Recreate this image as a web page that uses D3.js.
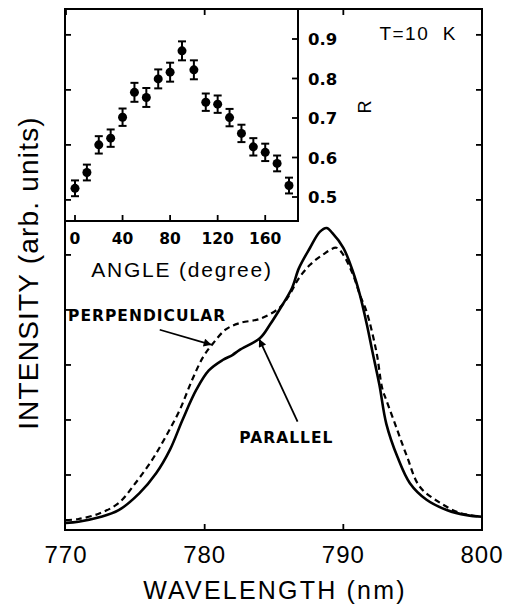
<!DOCTYPE html>
<html>
<head>
<meta charset="utf-8">
<script src="https://cdn.jsdelivr.net/npm/d3@7/dist/d3.min.js"></script>
<style>
  html, body { margin: 0; padding: 0; background: #fff; }
  svg { display: block; }
  .frame { fill: none; stroke: #000; stroke-width: 2; }
  .tick-mark { stroke: #000; stroke-width: 1.8; }
</style>
</head>
<body>
<div id="chart"></div>
<script>
// main spectrum: wavelength (nm) vs intensity (arb. units)
const parallelWl = [770, 770.9, 772.4, 773.8, 775.3, 776.5, 777.5, 778.4, 779.4, 780.3, 781.3, 782.0, 782.5, 784.0, 784.7, 785.6, 786.3, 786.8, 787.6, 788.3, 788.8, 789.2, 790.0, 790.7, 791.2, 791.7, 792.1, 792.6, 793.1, 793.9, 794.8, 796.0, 797.5, 798.9, 800];
const parallelI  = [0.13, 0.15, 0.23, 0.36, 0.67, 1.03, 1.46, 2.0, 2.55, 2.9, 3.09, 3.18, 3.27, 3.49, 3.73, 4.09, 4.40, 4.76, 5.13, 5.42, 5.49, 5.40, 5.13, 4.69, 4.27, 3.73, 3.24, 2.64, 1.93, 1.33, 0.85, 0.55, 0.36, 0.27, 0.24];

const perpWl = [770, 770.9, 772.4, 773.8, 775.0, 776.2, 777.2, 778.2, 779.1, 779.9, 780.6, 781.5, 782.5, 784.0, 785.4, 786.1, 786.8, 787.6, 788.5, 789.5, 790.0, 790.7, 791.2, 791.7, 792.4, 792.8, 793.1, 793.8, 794.6, 795.5, 797.0, 798.4, 800];
const perpI  = [0.18, 0.2, 0.3, 0.49, 0.85, 1.27, 1.70, 2.18, 2.73, 3.15, 3.39, 3.64, 3.76, 3.84, 4.04, 4.27, 4.58, 4.82, 5.0, 5.13, 5.0, 4.64, 4.27, 3.95, 3.22, 2.58, 2.36, 1.88, 1.33, 0.79, 0.49, 0.31, 0.24];

const wlTicks = [770, 780, 790, 800];
const intensityTicks = [1, 2, 3, 4, 5, 6, 7, 8, 9];

// inset: polarization ratio R vs angle
const angles = [0, 10, 20, 30, 40, 50, 60, 70, 80, 90, 100, 110, 120, 130, 140, 150, 160, 170, 180];
const ratioR = [0.522, 0.562, 0.632, 0.649, 0.702, 0.765, 0.752, 0.799, 0.816, 0.870, 0.822, 0.740, 0.735, 0.701, 0.661, 0.627, 0.613, 0.585, 0.529];
const ratioErr = [0.02, 0.02, 0.022, 0.022, 0.022, 0.024, 0.024, 0.024, 0.024, 0.024, 0.024, 0.022, 0.022, 0.022, 0.022, 0.022, 0.022, 0.02, 0.02];
const angleTicks = [0, 40, 80, 120, 160];
const rTicks = [0.5, 0.6, 0.7, 0.8, 0.9];

const width = 506, height = 607;
const box = { left: 65, top: 9, right: 482, bottom: 530 };
const inset = { left: 65, top: 9, right: 298, bottom: 221 };

const svg = d3.select("#chart")
              .append("svg")
              .attr("width", width)
              .attr("height", height);

const x = d3.scaleLinear().domain([770, 800]).range([box.left + 1, box.right]);
const y = d3.scaleLinear().domain([0, 9.47]).range([box.bottom, box.top]);

// frame
svg.append("rect")
   .attr("class", "frame")
   .attr("x", box.left).attr("y", box.top)
   .attr("width", box.right - box.left)
   .attr("height", box.bottom - box.top);

// main ticks, all pointing inward
const tl = 6;
svg.selectAll(".xt-bot")
   .data(wlTicks.slice(1, -1))
   .enter().append("line")
     .attr("class", "tick-mark")
     .attr("x1", d => x(d)).attr("x2", d => x(d))
     .attr("y1", box.bottom).attr("y2", box.bottom - tl);
svg.selectAll(".xt-top")
   .data(wlTicks.slice(1, -1))
   .enter().append("line")
     .attr("class", "tick-mark")
     .attr("x1", d => x(d)).attr("x2", d => x(d))
     .attr("y1", box.top).attr("y2", box.top + tl);
svg.selectAll(".yt-left")
   .data(intensityTicks)
   .enter().append("line")
     .attr("class", "tick-mark")
     .attr("x1", box.left).attr("x2", box.left + tl)
     .attr("y1", d => y(d)).attr("y2", d => y(d));
svg.selectAll(".yt-right")
   .data(intensityTicks)
   .enter().append("line")
     .attr("class", "tick-mark")
     .attr("x1", box.right).attr("x2", box.right - tl)
     .attr("y1", d => y(d)).attr("y2", d => y(d));

svg.selectAll(".xlab")
   .data(wlTicks)
   .enter().append("text")
     .attr("x", d => x(d))
     .attr("y", 563)
     .attr("text-anchor", "middle")
     .attr("font-family", "Liberation Sans, Arial, sans-serif")
     .attr("font-size", 24)
     .attr("letter-spacing", 1)
     .text(d => d);

svg.append("text")
   .attr("x", 275).attr("y", 599)
   .attr("text-anchor", "middle")
   .attr("font-family", "Liberation Sans, Arial, sans-serif")
   .attr("font-size", 25)
   .attr("letter-spacing", 2.2)
   .text("WAVELENGTH (nm)");

svg.append("text")
   .attr("transform", "translate(38, 273) rotate(-90)")
   .attr("text-anchor", "middle")
   .attr("font-family", "Liberation Sans, Arial, sans-serif")
   .attr("font-size", 28)
   .attr("letter-spacing", 1.2)
   .text("INTENSITY (arb. units)");

// spectra
const line = d3.line()
               .x(d => x(d[0]))
               .y(d => y(d[1]))
               .curve(d3.curveCatmullRom.alpha(0.5));

svg.append("path")
   .datum(d3.zip(perpWl, perpI))
   .attr("d", line)
   .attr("fill", "none")
   .attr("stroke", "#000")
   .attr("stroke-width", 2.2)
   .attr("stroke-dasharray", "6,4");

svg.append("path")
   .datum(d3.zip(parallelWl, parallelI))
   .attr("d", line)
   .attr("fill", "none")
   .attr("stroke", "#000")
   .attr("stroke-width", 2.6);

// annotations
svg.append("defs").append("marker")
   .attr("id", "head")
   .attr("viewBox", "0 0 10 10")
   .attr("refX", 9).attr("refY", 5)
   .attr("markerWidth", 11).attr("markerHeight", 8)
   .attr("markerUnits", "userSpaceOnUse")
   .attr("orient", "auto")
   .append("path")
     .attr("d", "M0,0 L10,5 L0,10 z")
     .attr("fill", "#000");

const annFont = "DejaVu Sans, sans-serif";
svg.append("text")
   .attr("x", x(770.15)).attr("y", y(3.8))
   .attr("font-family", annFont)
   .attr("font-weight", "bold")
   .attr("font-size", 15.5)
   .attr("letter-spacing", 1)
   .text("PERPENDICULAR");
svg.append("line")
   .attr("x1", x(776.76)).attr("y1", y(3.64))
   .attr("x2", x(780.45)).attr("y2", y(3.37))
   .attr("stroke", "#000").attr("stroke-width", 1.8)
   .attr("marker-end", "url(#head)");

svg.append("text")
   .attr("x", x(782.5)).attr("y", y(1.58))
   .attr("font-family", annFont)
   .attr("font-weight", "bold")
   .attr("font-size", 15.5)
   .attr("letter-spacing", 1)
   .text("PARALLEL");
svg.append("line")
   .attr("x1", x(786.7)).attr("y1", y(1.97))
   .attr("x2", x(783.95)).attr("y2", y(3.46))
   .attr("stroke", "#000").attr("stroke-width", 1.8)
   .attr("marker-end", "url(#head)");

// inset
const ix = d3.scaleLinear().domain([0, 180]).range([75, 289]);
const iy = d3.scaleLinear().domain([0.5, 0.9]).range([197, 39]);

svg.append("rect")
   .attr("x", inset.left).attr("y", inset.top)
   .attr("width", inset.right - inset.left)
   .attr("height", inset.bottom - inset.top)
   .attr("fill", "#fff")
   .attr("stroke", "#000")
   .attr("stroke-width", 2);

svg.selectAll(".it-bot")
   .data(angleTicks)
   .enter().append("line")
     .attr("class", "tick-mark")
     .attr("x1", d => ix(d)).attr("x2", d => ix(d))
     .attr("y1", inset.bottom).attr("y2", inset.bottom - tl);
svg.selectAll(".it-right")
   .data(rTicks)
   .enter().append("line")
     .attr("class", "tick-mark")
     .attr("x1", inset.right).attr("x2", inset.right - tl)
     .attr("y1", d => iy(d)).attr("y2", d => iy(d));
// main left ticks continue along the inset edge
svg.selectAll(".it-left")
   .data(intensityTicks.filter(d => y(d) < inset.bottom))
   .enter().append("line")
     .attr("class", "tick-mark")
     .attr("x1", box.left).attr("x2", box.left + tl)
     .attr("y1", d => y(d)).attr("y2", d => y(d));
svg.selectAll(".it-top")
   .data(wlTicks.filter(d => x(d) > inset.left && x(d) < inset.right))
   .enter().append("line")
     .attr("class", "tick-mark")
     .attr("x1", d => x(d)).attr("x2", d => x(d))
     .attr("y1", box.top).attr("y2", box.top + tl);

const tickFont = "DejaVu Sans, sans-serif";
svg.selectAll(".ilab-x")
   .data(angleTicks)
   .enter().append("text")
     .attr("x", d => ix(d))
     .attr("y", 244)
     .attr("text-anchor", "middle")
     .attr("font-family", tickFont)
     .attr("font-weight", "bold")
     .attr("font-size", 15.5)
     .text(d => d);
svg.selectAll(".ilab-y")
   .data(rTicks)
   .enter().append("text")
     .attr("x", 308)
     .attr("y", d => iy(d) + 6)
     .attr("font-family", tickFont)
     .attr("font-weight", "bold")
     .attr("font-size", 16.5)
     .text(d => d.toFixed(1));

svg.append("text")
   .attr("x", 182).attr("y", 277)
   .attr("text-anchor", "middle")
   .attr("font-family", "Liberation Sans, Arial, sans-serif")
   .attr("font-size", 21)
   .attr("letter-spacing", 1.8)
   .text("ANGLE (degree)");

svg.append("text")
   .attr("transform", "translate(371, 107) rotate(-90)")
   .attr("text-anchor", "middle")
   .attr("font-family", "Liberation Sans, Arial, sans-serif")
   .attr("font-size", 18)
   .text("R");

svg.append("text")
   .attr("x", 457).attr("y", 40)
   .attr("text-anchor", "end")
   .attr("font-family", "Liberation Sans, Arial, sans-serif")
   .attr("font-size", 19)
   .attr("letter-spacing", 1.5)
   .attr("xml:space", "preserve")
   .text("T=10  K");

// error bars and points
const pts = angles.map((a, i) => ({ a: a, r: ratioR[i], e: ratioErr[i] }));
const eb = svg.selectAll(".eb").data(pts).enter().append("g");
eb.append("line")
  .attr("x1", d => ix(d.a)).attr("x2", d => ix(d.a))
  .attr("y1", d => iy(d.r - d.e)).attr("y2", d => iy(d.r + d.e))
  .attr("stroke", "#000").attr("stroke-width", 2);
eb.append("line")
  .attr("x1", d => ix(d.a) - 4).attr("x2", d => ix(d.a) + 4)
  .attr("y1", d => iy(d.r + d.e)).attr("y2", d => iy(d.r + d.e))
  .attr("stroke", "#000").attr("stroke-width", 2);
eb.append("line")
  .attr("x1", d => ix(d.a) - 4).attr("x2", d => ix(d.a) + 4)
  .attr("y1", d => iy(d.r - d.e)).attr("y2", d => iy(d.r - d.e))
  .attr("stroke", "#000").attr("stroke-width", 2);
eb.append("circle")
  .attr("cx", d => ix(d.a))
  .attr("cy", d => iy(d.r))
  .attr("r", 4.5)
  .attr("fill", "#000");
</script>
</body>
</html>
